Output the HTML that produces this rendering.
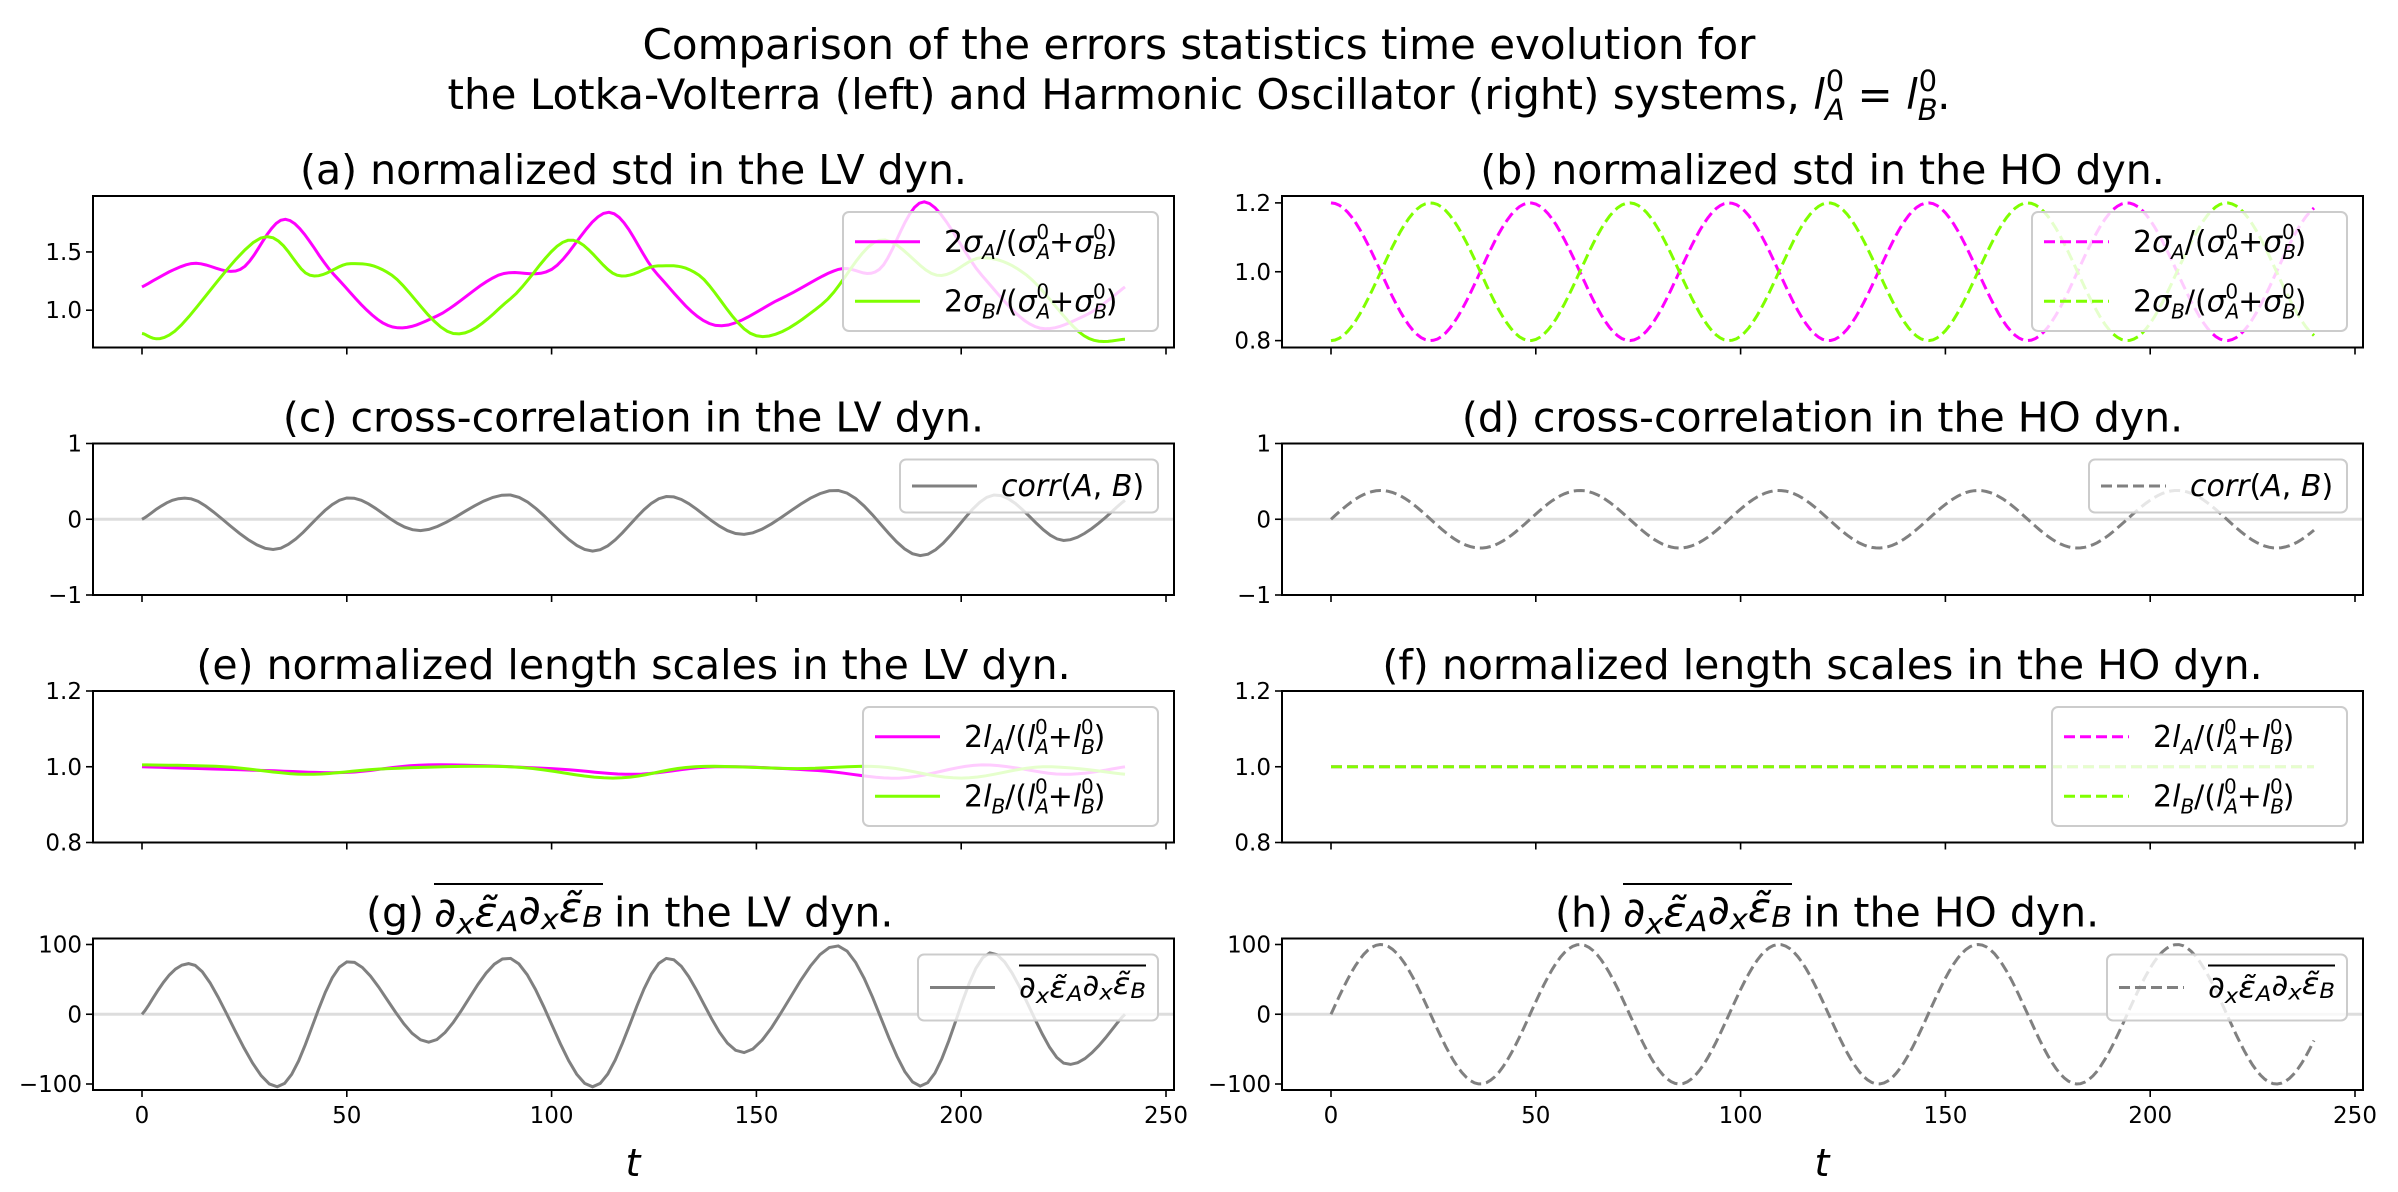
<!DOCTYPE html>
<html><head><meta charset="utf-8"><style>
html,body{margin:0;padding:0;background:#fff}
svg text{font-family:"DejaVu Sans","Liberation Sans",sans-serif;fill:#000}
</style></head><body>
<svg id="s" width="2398" height="1187" xmlns="http://www.w3.org/2000/svg">
<text x="1199" y="59" font-size="42" text-anchor="middle">Comparison of the errors statistics time evolution for</text>
<text x="1199" y="109" font-size="42" text-anchor="middle">the Lotka-Volterra (left) and Harmonic Oscillator (right) systems, <tspan font-style="italic">l</tspan><tspan font-size="29" dy="11" font-style="italic">A</tspan><tspan font-size="29" dx="-19" dy="-29">0</tspan><tspan dy="18"> = </tspan><tspan font-style="italic">l</tspan><tspan font-size="29" dy="11" font-style="italic">B</tspan><tspan font-size="29" dx="-19" dy="-29">0</tspan><tspan dy="18">.</tspan></text>
</svg>
<script>
const S=document.getElementById('s');let h='';
const tops=[196,443.5,691,938.5],H=151.5;
const LX=[93,1282],W=1081,X0=[142,1331],sx=4.096;
function cr(pts,ymap,x0){let o=[];for(let i=0;i<pts.length-1;i++){const p0=pts[Math.max(0,i-1)],p1=pts[i],p2=pts[i+1],p3=pts[Math.min(pts.length-1,i+2)];for(let k=0;k<10;k++){const t=k/10,t2=t*t,t3=t2*t;const f=(a,b,c,d)=>0.5*((2*b)+(-a+c)*t+(2*a-5*b+4*c-d)*t2+(-a+3*b-3*c+d)*t3);o.push([f(p0[0],p1[0],p2[0],p3[0]),f(p0[1],p1[1],p2[1],p3[1])]);}}o.push(pts[pts.length-1]);return o.map(p=>(x0+p[0]*sx).toFixed(1)+','+ymap(p[1]).toFixed(1)).join(' ');}
function fn(f,ymap,x0){let o=[];for(let t=0;t<=240;t+=1)o.push((x0+t*sx).toFixed(1)+','+ymap(f(t)).toFixed(1));return o.join(' ');}
const dd='<tspan font-style="italic">∂</tspan><tspan font-size="0.7em" font-style="italic" dy="0.25em">x</tspan><tspan font-style="italic" dy="-0.18em">ε̃</tspan><tspan font-size="0.7em" font-style="italic" dy="0.18em">A</tspan><tspan font-style="italic" dy="-0.18em">∂</tspan><tspan font-size="0.7em" font-style="italic" dy="0.18em">x</tspan><tspan font-style="italic" dy="-0.18em">ε̃</tspan><tspan font-size="0.7em" font-style="italic" dy="0.18em">B</tspan>';
function axes(col,row,ylo,yhi,ticks,title,lines,legend,lw,lh){
const x=LX[col],y=tops[row];const ym=v=>y+H-(v-ylo)/(yhi-ylo)*H;
if(row<3)h+=`<text x="${x+W/2}" y="${y-12}" font-size="41" text-anchor="middle">${title}</text>`;
else{const o=col?1189:0;h+=`<text x="${424+o}" y="${y-12}" font-size="41" text-anchor="end">(${col?'h':'g'})</text><text x="${434+o}" y="${y-12}" font-size="41" textLength="169" lengthAdjust="spacingAndGlyphs">${dd}</text><line x1="${434+o}" x2="${603+o}" y1="884" y2="884" stroke="#000" stroke-width="2"/><text x="${614+o}" y="${y-12}" font-size="41">in the ${col?'HO':'LV'} dyn.</text>`;}
h+=`<clipPath id="c${col}${row}"><rect x="${x}" y="${y}" width="${W}" height="${H}"/></clipPath><g clip-path="url(#c${col}${row})">`;
if(ylo<0)h+=`<line x1="${x}" x2="${x+W}" y1="${ym(0)}" y2="${ym(0)}" stroke="#ddd" stroke-width="3"/>`;
for(const l of lines)h+=`<polyline points="${l.p(ym,X0[col])}" fill="none" stroke="${l.c}" stroke-width="3" ${col?'stroke-dasharray="11,5"':''}/>`;
h+='</g>';
h+=`<rect x="${x}" y="${y}" width="${W}" height="${H}" fill="none" stroke="#000" stroke-width="2"/>`;
for(const [t,lab] of ticks){const yy=ym(t);h+=`<line x1="${x-7}" x2="${x}" y1="${yy}" y2="${yy}" stroke="#000" stroke-width="1.6"/><text x="${x-11}" y="${yy+8}" font-size="23" text-anchor="end">${lab}</text>`;}
for(let t=0;t<=250;t+=50){const xx=X0[col]+t*sx;h+=`<line x1="${xx}" x2="${xx}" y1="${y+H}" y2="${y+H+7}" stroke="#000" stroke-width="1.6"/>`;if(row==3)h+=`<text x="${xx}" y="${y+H+33}" font-size="23" text-anchor="middle">${t}</text>`;}
const bx=x+W-16-lw,by=y+16;
h+=`<rect x="${bx}" y="${by}" width="${lw}" height="${lh}" rx="6" fill="#fff" fill-opacity="0.8" stroke="#ccc" stroke-width="2"/>`;
legend.forEach((e,i)=>{const ly=by+(lh/legend.length)*(i+0.5);h+=`<line x1="${bx+12}" x2="${bx+77}" y1="${ly}" y2="${ly}" stroke="${e.c}" stroke-width="3" ${col?'stroke-dasharray="11,5"':''}/>`;
if(e.dd)h+=`<text x="${bx+101}" y="${ly+10}" font-size="30" textLength="127" lengthAdjust="spacingAndGlyphs">${dd}</text><line x1="${bx+101}" x2="${bx+228}" y1="${ly-22}" y2="${ly-22}" stroke="#000" stroke-width="2"/>`;
else h+=`<text x="${bx+101}" y="${ly+10}" font-size="30">${e.t}</text>`;});
}
const M='#ff00ff',G='#7fff00',K='#808080';
const sA='2<tspan font-style="italic">σ</tspan><tspan font-size="20" font-style="italic" dy="7">A</tspan><tspan dy="-7">/(</tspan><tspan font-style="italic">σ</tspan><tspan font-size="20" font-style="italic" dy="7">A</tspan><tspan font-size="20" dx="-14" dy="-20">0</tspan><tspan dy="13">+</tspan><tspan font-style="italic">σ</tspan><tspan font-size="20" font-style="italic" dy="7">B</tspan><tspan font-size="20" dx="-14" dy="-20">0</tspan><tspan dy="13">)</tspan>';
const sB=sA.replace('σ</tspan><tspan font-size="20" font-style="italic" dy="7">A</tspan><tspan dy="-7">','σ</tspan><tspan font-size="20" font-style="italic" dy="7">B</tspan><tspan dy="-7">');
const lA=sA.replace(/σ/g,'l'),lB=sB.replace(/σ/g,'l');
const cor='<tspan font-style="italic">corr</tspan>(<tspan font-style="italic">A</tspan>, <tspan font-style="italic">B</tspan>)';
const P=2*Math.PI/48.6;
const mA=[[0,1.2],[12,1.4],[24,1.35],[35,1.78],[47,1.3],[60,0.87],[72,0.95],[87,1.3],[100,1.35],[114,1.84],[126,1.3],[140,0.87],[156,1.1],[170,1.35],[180,1.35],[191,1.93],[205,1.3],[218,0.86],[230,0.95],[240,1.2]];
const gA=[[0,0.8],[8,0.82],[29,1.62],[41,1.3],[51,1.4],[61,1.3],[76,0.8],[90,1.1],[104,1.6],[116,1.3],[126,1.38],[136,1.3],[150,0.78],[166,1.05],[180,1.6],[194,1.3],[205,1.45],[216,1.3],[230,0.78],[240,0.75]];
const cA=[[0,0],[12,0.27],[32,-0.4],[50,0.28],[68,-0.15],[90,0.32],[110,-0.42],[128,0.3],[147,-0.2],[170,0.38],[190,-0.48],[208,0.32],[225,-0.28],[240,0.25]];
const dA=[[0,0],[13,70],[33,-104],[50,75],[70,-40],[90,80],[110,-104],[128,80],[147,-55],[170,98],[190,-103],[207,88],[225,-70],[240,0]];
const eM=[[0,1],[30,0.99],[50,0.985],[70,1.005],[100,0.995],[120,0.98],[140,1.0],[165,0.99],[185,0.97],[205,1.005],[225,0.98],[240,1]];
const eG=[[0,1.005],[20,1.0],[40,0.98],[60,0.995],[90,1.0],[115,0.97],[135,1.0],[160,0.995],[180,1.0],[200,0.97],[220,1.0],[240,0.98]];
const c=p=>(ym,x0)=>cr(p,ym,x0),f=g=>(ym,x0)=>fn(g,ym,x0);
const T1=[[-1,'−1'],[0,'0'],[1,'1']],T2=[[0.8,'0.8'],[1,'1.0'],[1.2,'1.2']],T3=[[-100,'−100'],[0,'0'],[100,'100']];
axes(0,0,0.68,1.98,[[1,'1.0'],[1.5,'1.5']],'(a) normalized std in the LV dyn.',[{p:c(mA),c:M},{p:c(gA),c:G}],[{c:M,t:sA},{c:G,t:sB}],315,119);
axes(1,0,0.78,1.22,T2,'(b) normalized std in the HO dyn.',[{p:f(t=>1+0.2*Math.cos(P*t)),c:M},{p:f(t=>1-0.2*Math.cos(P*t)),c:G}],[{c:M,t:sA},{c:G,t:sB}],315,119);
axes(0,1,-1,1,T1,'(c) cross-correlation in the LV dyn.',[{p:c(cA),c:K}],[{c:K,t:cor}],258,53);
axes(1,1,-1,1,T1,'(d) cross-correlation in the HO dyn.',[{p:f(t=>0.38*Math.sin(P*t)),c:K}],[{c:K,t:cor}],258,53);
axes(0,2,0.8,1.2,T2,'(e) normalized length scales in the LV dyn.',[{p:c(eM),c:M},{p:c(eG),c:G}],[{c:M,t:lA},{c:G,t:lB}],295,119);
axes(1,2,0.8,1.2,T2,'(f) normalized length scales in the HO dyn.',[{p:f(t=>1),c:M},{p:f(t=>1),c:G}],[{c:M,t:lA},{c:G,t:lB}],295,119);
axes(0,3,-108.6,108.6,T3,'',[{p:c(dA),c:K}],[{c:K,dd:1}],240,66);
axes(1,3,-108.6,108.6,T3,'',[{p:f(t=>100*Math.sin(P*t)),c:K}],[{c:K,dd:1}],240,66);
h+='<text x="633" y="1176" font-size="38" font-style="italic" text-anchor="middle">t</text><text x="1822" y="1176" font-size="38" font-style="italic" text-anchor="middle">t</text>';
S.insertAdjacentHTML('beforeend',h);
</script>
</body></html>
